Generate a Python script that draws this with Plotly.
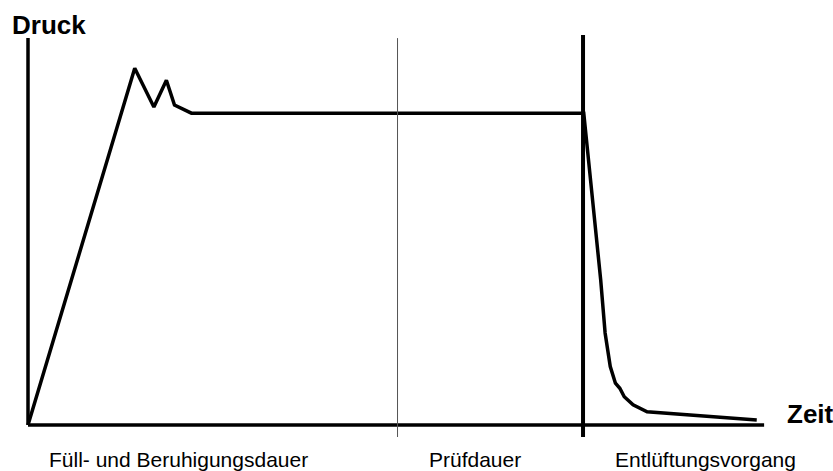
import plotly.graph_objects as go

# Pressure curve (time and pressure in relative units)
time = [0, 14.5, 17.1, 18.8, 19.9, 22.2, 75.5, 77.8, 78.4, 79.1, 79.8, 80.4, 81.0, 82.2, 84.1, 99.0]
pressure = [0, 92.2, 82.2, 89.1, 82.7, 80.6, 80.6, 37.5, 23.8, 15.1, 10.8, 9.5, 7.3, 5.2, 3.4, 1.3]

# Phase boundaries and labels
phase_bounds = [50.2, 75.4]
phase_label_pos = [20.5, 60.7, 92.1]
phase_labels = ["Füll- und Beruhigungsdauer", "Prüfdauer", "Entlüftungsvorgang"]

axis_max_x = 100
axis_max_y = 100
x_low, x_high = -1.087, 100.8
y_low, y_high = -3.1, 100.8

FONT = "Liberation Sans, Arial, sans-serif"


def px(t):
    return (t - x_low) / (x_high - x_low)


def py(p):
    return (p - y_low) / (y_high - y_low)


fig = go.Figure()

fig.add_trace(go.Scatter(
    x=time, y=pressure, mode="lines",
    line=dict(color="black", width=3.5),
    cliponaxis=False, showlegend=False, hoverinfo="skip",
))

shapes = [
    # axes
    dict(type="line", xref="x", yref="y", x0=0, x1=axis_max_x, y0=0, y1=0,
         line=dict(color="black", width=3.5)),
    dict(type="line", xref="x", yref="y", x0=0, x1=0, y0=0, y1=axis_max_y,
         line=dict(color="black", width=3.5)),
    # phase boundaries
    dict(type="line", xref="x", yref="y", x0=phase_bounds[0], x1=phase_bounds[0],
         y0=y_low, y1=axis_max_y, line=dict(color="#555555", width=1)),
    dict(type="line", xref="x", yref="y", x0=phase_bounds[1], x1=phase_bounds[1],
         y0=y_low, y1=y_high, line=dict(color="black", width=4)),
]

annotations = [
    dict(x=px(-2.45), y=py(103.4), xref="paper", yref="paper", text="<b>Druck</b>", showarrow=False,
         xanchor="left", yanchor="middle", font=dict(family=FONT, size=26, color="black")),
    dict(x=px(102.85), y=py(2.84), xref="paper", yref="paper", text="<b>Zeit</b>", showarrow=False,
         xanchor="left", yanchor="middle", font=dict(family=FONT, size=26, color="black")),
]
for xp, lab in zip(phase_label_pos, phase_labels):
    annotations.append(dict(x=px(xp), y=py(-9.04), xref="paper", yref="paper", text=lab,
                            showarrow=False, xanchor="center", yanchor="middle",
                            font=dict(family=FONT, size=21, color="black")))

fig.update_layout(
    width=833, height=471,
    margin=dict(l=20, r=63, t=35, b=34),
    paper_bgcolor="white", plot_bgcolor="white",
    shapes=shapes, annotations=annotations,
    xaxis=dict(range=[x_low, x_high], visible=False, fixedrange=True),
    yaxis=dict(range=[y_low, y_high], visible=False, fixedrange=True),
    font=dict(family=FONT),
)

fig.write_html(
    "out.html",
    config={"displayModeBar": False},
    post_script="document.body.style.margin='0';document.body.style.overflow='hidden';",
)
